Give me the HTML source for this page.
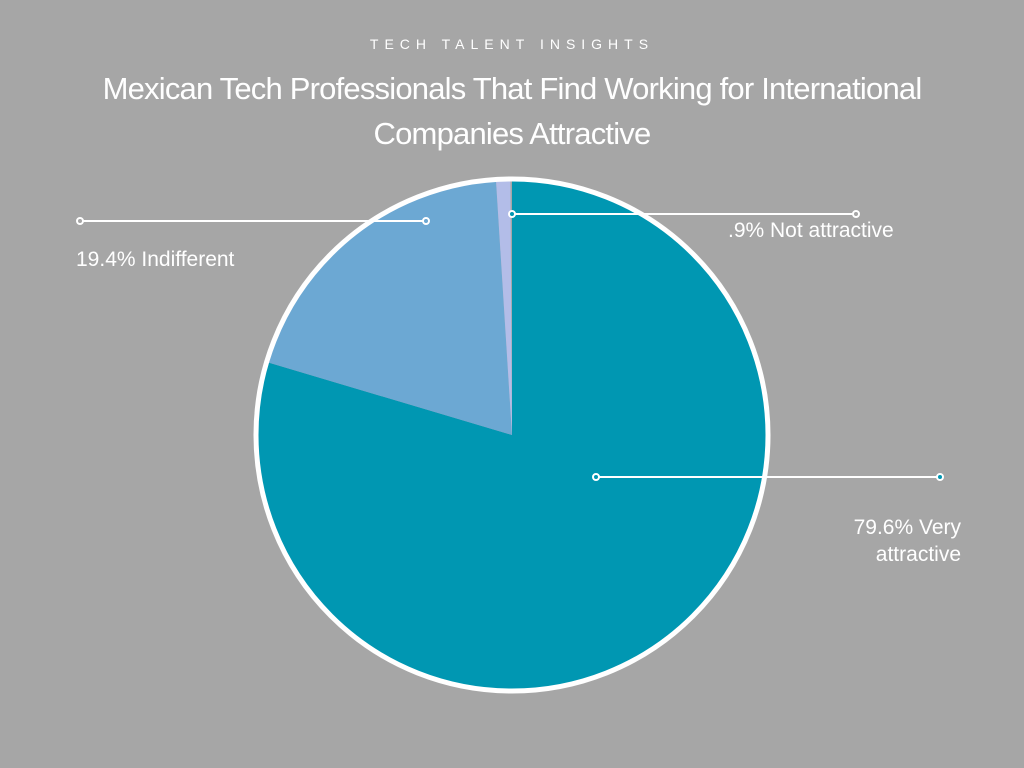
<!DOCTYPE html>
<html><head><meta charset="utf-8">
<style>
html,body{margin:0;padding:0;background:#a6a6a6;}
body{width:1024px;height:768px;position:relative;overflow:hidden;font-family:"Liberation Sans",sans-serif;color:#fff;}
.sup{position:absolute;top:36px;left:0;width:1024px;text-align:center;font-size:14px;letter-spacing:6px;}
.title{position:absolute;top:66px;left:0;width:1024px;text-align:center;font-size:31px;line-height:45px;letter-spacing:-0.8px;}
.lbl{position:absolute;font-size:21px;line-height:27px;}
</style></head><body>
<div class="sup">TECH TALENT INSIGHTS</div>
<div class="title">Mexican Tech Professionals That Find Working for International<br>Companies Attractive</div>
<svg id="chart" width="1024" height="768" style="position:absolute;left:0;top:0">
<g id="slices"></g>
<g stroke="#fff" stroke-width="2" fill="none">
<line x1="80" y1="221" x2="426" y2="221"/>
<circle cx="80" cy="221" r="3" fill="#a6a6a6"/><circle cx="426" cy="221" r="3" fill="#6ca8d3"/>
<line x1="512" y1="214" x2="856" y2="214"/>
<circle cx="512" cy="214" r="3" fill="#0097b2"/><circle cx="856" cy="214" r="3" fill="#a6a6a6"/>
<line x1="596" y1="477" x2="940" y2="477"/>
<circle cx="596" cy="477" r="3" fill="#0097b2"/><circle cx="940" cy="477" r="3" fill="#0097b2"/>
</g>
</svg>
<div class="lbl" style="left:76px;top:246px">19.4% Indifferent</div>
<div class="lbl" style="left:728px;top:217px">.9% Not attractive</div>
<div class="lbl" style="right:63px;top:514px;text-align:right">79.6% Very<br>attractive</div>
<script>
const categories = ["Very attractive","Indifferent","Not attractive"];
const values = [79.6, 19.4, 0.9];
const colors = ["#0097b2","#6ca8d3","#b3bde8"];
const cx=512, cy=435, r=256;
const g=document.getElementById('slices');
const ns="http://www.w3.org/2000/svg";
const total=100;
function pt(a){return [cx+r*Math.sin(a), cy-r*Math.cos(a)];}
let acc=0;
values.forEach((v,i)=>{
  const a0=acc/total*2*Math.PI; acc+=v; const a1=acc/total*2*Math.PI;
  const p0=pt(a0), p1=pt(a1);
  const large=(a1-a0)>Math.PI?1:0;
  const p=document.createElementNS(ns,'path');
  p.setAttribute('d',`M${cx},${cy} L${p0[0]},${p0[1]} A${r},${r} 0 ${large} 1 ${p1[0]},${p1[1]} Z`);
  p.setAttribute('fill',colors[i]);
  
  
  g.appendChild(p);
});
const c=document.createElementNS(ns,'circle');
c.setAttribute('cx',cx);c.setAttribute('cy',cy);c.setAttribute('r',r);
c.setAttribute('fill','none');c.setAttribute('stroke','#fff');c.setAttribute('stroke-width','5');


g.appendChild(c);
</script>
</body></html>
